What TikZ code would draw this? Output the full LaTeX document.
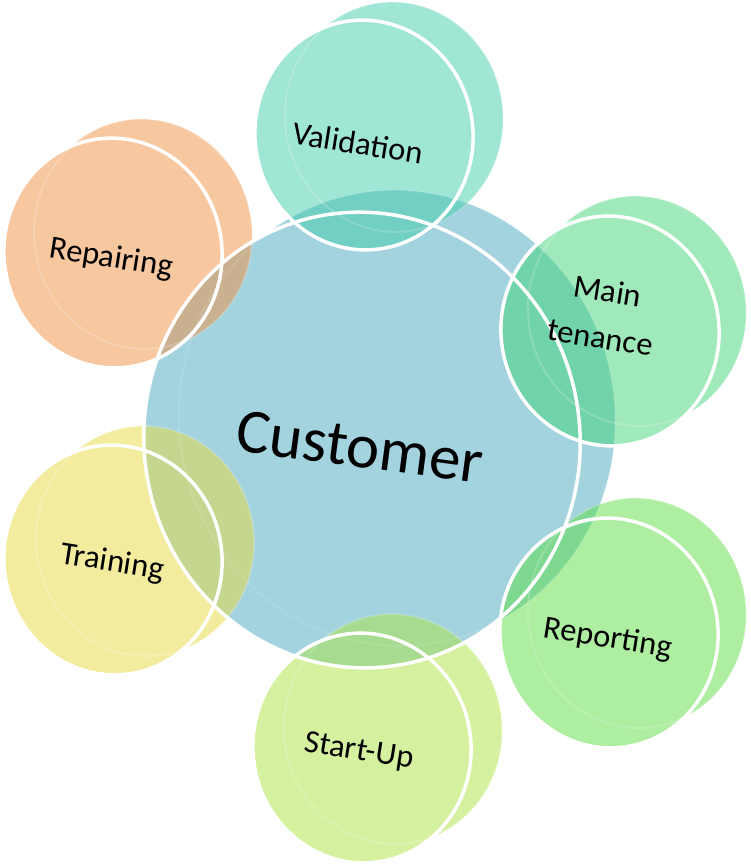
\documentclass[tikz,border=0pt]{standalone}
\usepackage{fontspec}
\setmainfont{Carlito}
\definecolor{cblue}{RGB}{163,211,222}
\definecolor{cval}{RGB}{65,205,171}
\definecolor{cmai}{RGB}{65,211,117}
\definecolor{crpt}{RGB}{91,221,65}
\definecolor{cstu}{RGB}{171,227,65}
\definecolor{ctrn}{RGB}{231,217,63}
\definecolor{crep}{RGB}{239,143,65}
\tikzset{
  disk/.style={x radius=109, y radius=115, rotate=8},
  bigdisk/.style={x radius=218, y radius=228, rotate=8},
  rim/.style={draw=white, line width=3.5pt},
  ghost/.style={draw=white, draw opacity=0.18, line width=2pt},
  lbl/.style={font=\fontsize{32.5}{38}\selectfont, text=black, rotate=-9, align=center, inner sep=0pt},
}
% front x, front y, back x, back y, colour
\newcommand\satfill[5]{\path[fill=#5, fill opacity=0.5] (#3,#4) ellipse [disk] (#1,#2) ellipse [disk];}
\newcommand\satrim[4]{\draw[ghost] (#3,#4) ellipse [disk]; \draw[rim] (#1,#2) ellipse [disk];}
\begin{document}
\begin{tikzpicture}[x=1pt,y=-1pt]
\useasboundingbox (0,0) rectangle (750,866);
% centre disk
\path[fill=cblue] (397,418) ellipse [bigdisk] (362,440) ellipse [bigdisk];
% satellites fills
\satfill{364}{135}{394}{117}{cval}
\satfill{610}{331}{637}{311}{cmai}
\satfill{609}{633}{637}{613}{crpt}
\satfill{362}{748}{393}{729}{cstu}
\satfill{113}{560}{145}{541}{ctrn}
\satfill{113}{253}{143}{234}{crep}
% outlines
\draw[ghost, draw opacity=0.1] (397,418) ellipse [bigdisk];
\draw[rim] (362,440) ellipse [bigdisk];
\satrim{364}{135}{394}{117}
\satrim{610}{331}{637}{311}
\satrim{609}{633}{637}{613}
\satrim{362}{748}{393}{729}
\satrim{113}{560}{145}{541}
\satrim{113}{253}{143}{234}
% labels
\node[font=\fontsize{63}{76}\selectfont, rotate=-7.5, inner sep=0pt] (cus) at (360,447) {Customer};
\node[lbl] (val) at (358,143) {Validation};
\node[lbl, font=\fontsize{32.5}{47}\selectfont] (mai) at (604,314) {Main\\tenance};
\node[lbl] (rpt) at (608,639) {Reporting};
\node[lbl] (stu) at (359,752) {Start-Up};
\node[lbl] (trn) at (112,563) {Training};
\node[lbl] (rep) at (111,259) {Repairing};
\end{tikzpicture}
\end{document}
